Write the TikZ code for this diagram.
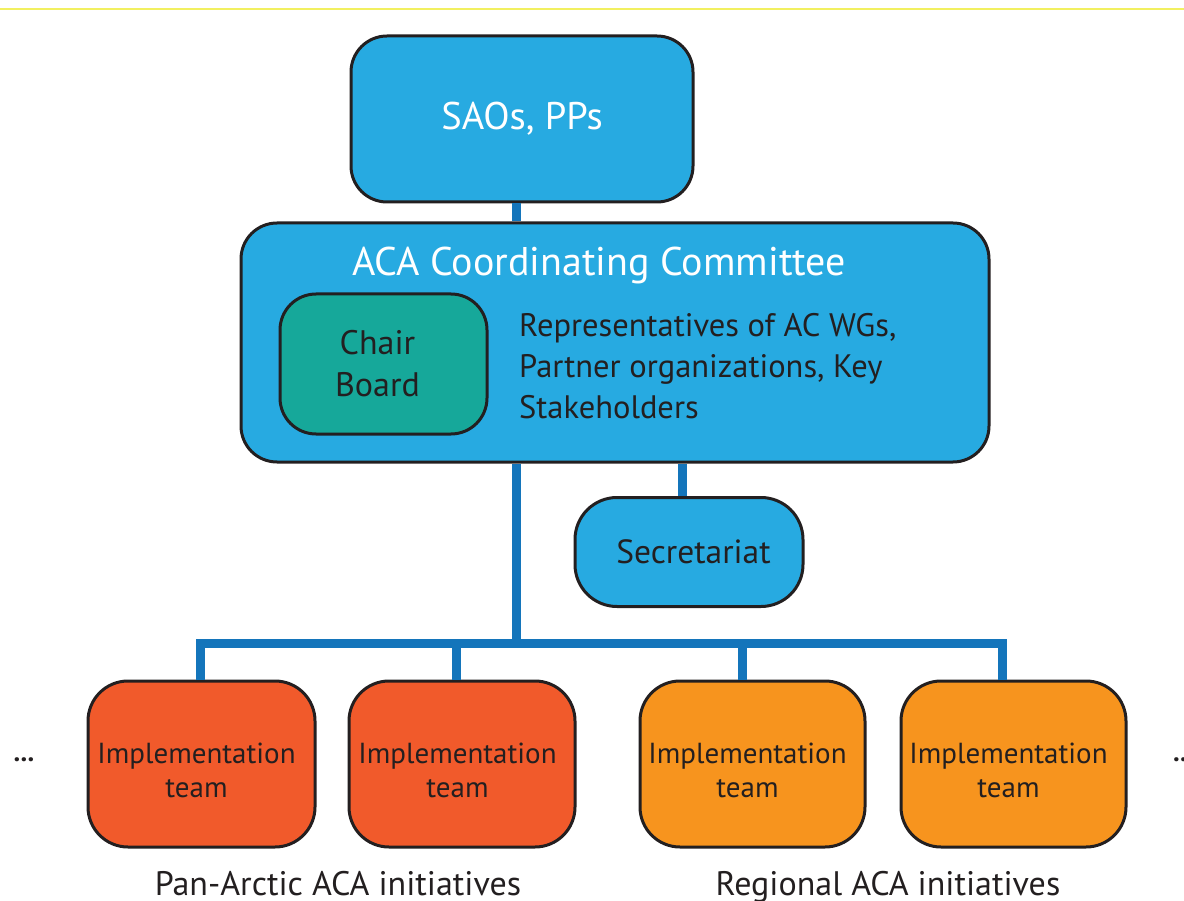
\documentclass[tikz,border=0pt]{standalone}
\usepackage{fontspec}
\setmainfont{PT Sans}
\definecolor{boxblue}{HTML}{27AAE1}
\definecolor{connblue}{HTML}{1475BB}
\definecolor{teal}{HTML}{16A89A}
\definecolor{redor}{HTML}{F15A2B}
\definecolor{orng}{HTML}{F7941E}
\definecolor{ink}{HTML}{231F20}
\definecolor{topline}{HTML}{F2F060}
\tikzset{
  box/.style={draw=ink, line width=3pt, rounded corners=36pt, inner sep=0pt, align=center, text=ink},
  conn/.style={draw=connblue, line width=9pt, line join=miter},
  impl/.style={box, minimum height=166pt, rounded corners=40pt},
  impltxt/.style={inner sep=0pt, align=center, text=ink, font=\fontsize{29}{34}\selectfont},
  lbl/.style={text=ink, font=\fontsize{34}{36}\selectfont, anchor=base, inner sep=0pt},
  dots/.style={text=ink, font=\bfseries\fontsize{27}{30}\selectfont, inner sep=0pt},
}
\begin{document}
\begin{tikzpicture}[x=1pt,y=-1pt]
\useasboundingbox (0,0) rectangle (1184,901);
\draw[topline, line width=1.2pt] (0,9) -- (1184,9);
% coordinates for connectors
\coordinate (trunk) at (516,643);
\coordinate (secx) at (682,480);
\coordinate (d1) at (200,643);
\coordinate (d2) at (456,643);
\coordinate (d3) at (742,643);
\coordinate (d4) at (1002,643);
% boxes
\node[box, fill=boxblue, minimum width=342pt, minimum height=166pt, text=white, font=\fontsize{38.5}{40}\selectfont] (sao) at (522,119) {\raisebox{3pt}{SAOs, PPs}};
\node[box, fill=boxblue, minimum width=748pt, minimum height=239pt] (aca) at (615,342.5) {};
\node[box, fill=boxblue, minimum width=228pt, minimum height=109pt, rounded corners=42pt, font=\fontsize{33.5}{36}\selectfont] (sec) at (689,552) {\hspace*{9pt}Secretariat};
\node[impl, fill=redor, minimum width=227pt] (imp1) at (201.5,764) {};
\node[impl, fill=redor, minimum width=226pt] (imp2) at (462,764) {};
\node[impl, fill=orng, minimum width=225pt] (imp3) at (752.5,764) {};
\node[impl, fill=orng, minimum width=225pt] (imp4) at (1013.5,764) {};
\node[impltxt] (imp1t) at ([xshift=-5pt,yshift=-6pt]imp1.center) {Implementation\\team};
\node[impltxt] (imp2t) at ([xshift=-4.5pt,yshift=-6pt]imp2.center) {Implementation\\team};
\node[impltxt] (imp3t) at ([xshift=-5pt,yshift=-6pt]imp3.center) {Implementation\\team};
\node[impltxt] (imp4t) at ([xshift=-5pt,yshift=-6pt]imp4.center) {Implementation\\team};
% connectors
\draw[conn] (sao.south -| trunk) -- (aca.north -| trunk);
\draw[conn] (aca.south -| secx) -- (sec.north -| secx);
\draw[conn] (aca.south -| trunk) -- (trunk);
\draw[conn] (imp1.north -| d1) -- (d1) -- (d4) -- (imp4.north -| d4);
\draw[conn] (d2) -- (imp2.north -| d2);
\draw[conn] (d3) -- (imp3.north -| d3);
% inner content of committee box
\node[text=white, font=\fontsize{40}{44}\selectfont, anchor=base, inner sep=0pt] (acatitle) at (599,276) {ACA Coordinating Committee};
\node[box, fill=teal, minimum width=207pt, minimum height=140pt, rounded corners=36pt, font=\fontsize{34}{42}\selectfont] (chair) at (383.5,364) {Chair\hspace*{12pt}\\Board\hspace*{12pt}};
\node[anchor=west, align=left, text=ink, inner sep=0pt, font=\fontsize{32.5}{41}\selectfont] (reps) at (519,366) {Representatives of AC WGs,\\Partner organizations, Key\\Stakeholders};
% side dots and group labels
\node[dots] (dotsL) at (24,760) {...};
\node[dots, anchor=west] (dotsR) at (1173,760) {...};
\node[lbl] (panlbl) at (338,895) {Pan-Arctic ACA initiatives};
\node[lbl] (reglbl) at (888,895) {Regional ACA initiatives};
\end{tikzpicture}
\end{document}
